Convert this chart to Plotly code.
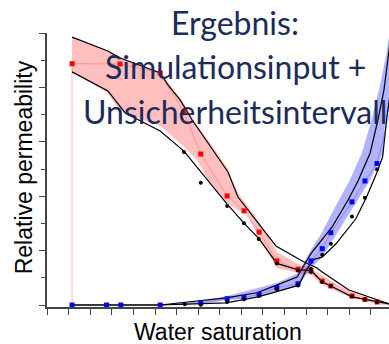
import plotly.graph_objects as go

# ---------------- data ----------------
# measured points (kro, red squares = simulation input)
kro_sw = [0.058, 0.169, 0.262, 0.317, 0.356, 0.417, 0.456, 0.491, 0.532, 0.581, 0.611, 0.637, 0.657, 0.706, 0.736, 0.764]
kro_val = [0.887, 0.886, 0.853, 0.708, 0.555, 0.401, 0.346, 0.268, 0.162, 0.132, 0.127, 0.088, 0.070, 0.033, 0.020, 0.011]
# black dots (oil)
kro_obs_sw = [0.317, 0.356, 0.417, 0.456, 0.490, 0.532, 0.581, 0.611, 0.637, 0.657, 0.706, 0.736, 0.764]
kro_obs = [0.5625, 0.449, 0.364, 0.301, 0.243, 0.153, 0.127, 0.121, 0.085, 0.070, 0.031, 0.020, 0.011]
# black bound lines (oil)
kro_hi_sw = [0.058, 0.141, 0.169, 0.262, 0.280, 0.308, 0.336, 0.419, 0.442, 0.500, 0.530, 0.593, 0.625, 0.637, 0.699, 0.792]
kro_hi = [0.985, 0.934, 0.908, 0.853, 0.809, 0.754, 0.680, 0.489, 0.397, 0.276, 0.217, 0.160, 0.136, 0.121, 0.055, 0.004]
kro_lo_sw = [0.058, 0.141, 0.181, 0.262, 0.317, 0.417, 0.456, 0.491, 0.532, 0.581, 0.611, 0.637, 0.657, 0.706, 0.792]
kro_lo = [0.857, 0.787, 0.706, 0.640, 0.566, 0.371, 0.301, 0.243, 0.153, 0.129, 0.127, 0.085, 0.070, 0.030, 0.004]
# uncertainty band (oil)
kro_band_sw = [0.058, 0.141, 0.164, 0.204, 0.262, 0.315, 0.347, 0.373, 0.417, 0.442, 0.463, 0.491, 0.532, 0.581, 0.611, 0.637, 0.657, 0.706, 0.736, 0.778, 0.799]
kro_band_hi = [0.985, 0.934, 0.915, 0.890, 0.857, 0.746, 0.662, 0.607, 0.504, 0.412, 0.368, 0.305, 0.195, 0.151, 0.136, 0.107, 0.088, 0.048, 0.029, 0.007, 0.0]
kro_band_lo = [0.857, 0.779, 0.724, 0.691, 0.658, 0.585, 0.533, 0.460, 0.375, 0.349, 0.335, 0.246, 0.136, 0.118, 0.110, 0.074, 0.059, 0.026, 0.015, 0.0, 0.0]

# water (blue squares = simulation input)
krw_sw = [0.058, 0.138, 0.171, 0.262, 0.356, 0.417, 0.456, 0.491, 0.532, 0.581, 0.611, 0.637, 0.657, 0.706, 0.736, 0.764]
krw_val = [0.0, 0.0, 0.0, 0.0, 0.008, 0.023, 0.027, 0.039, 0.064, 0.078, 0.162, 0.207, 0.266, 0.379, 0.456, 0.520]
krw_obs_sw = [0.319, 0.356, 0.417, 0.456, 0.491, 0.532, 0.581, 0.611, 0.637, 0.657, 0.706, 0.736, 0.764]
krw_obs = [0.003, 0.001, 0.011, 0.021, 0.033, 0.058, 0.072, 0.132, 0.185, 0.225, 0.325, 0.394, 0.499]
krw_hi_sw = [0.058, 0.262, 0.414, 0.486, 0.530, 0.579, 0.595, 0.611, 0.660, 0.697, 0.720, 0.748, 0.766, 0.780, 0.792, 0.796]
krw_hi = [0.0, 0.0, 0.026, 0.045, 0.072, 0.103, 0.146, 0.189, 0.287, 0.386, 0.456, 0.559, 0.680, 0.790, 0.938, 1.011]
krw_lo_sw = [0.058, 0.262, 0.414, 0.486, 0.530, 0.583, 0.600, 0.618, 0.637, 0.669, 0.715, 0.740, 0.763, 0.777, 0.786, 0.794]
krw_lo = [0.0, 0.0, 0.008, 0.029, 0.048, 0.073, 0.128, 0.168, 0.176, 0.225, 0.317, 0.398, 0.484, 0.545, 0.680, 0.772]
# uncertainty band (water), outline polygon
krw_band_sw = [0.262, 0.319, 0.354, 0.417, 0.470, 0.532, 0.581, 0.611, 0.637, 0.657, 0.701, 0.729, 0.750, 0.771, 0.785, 0.794,
               0.799, 0.792, 0.782, 0.778, 0.748, 0.701, 0.657, 0.637, 0.611, 0.581, 0.532, 0.470, 0.417, 0.354, 0.319, 0.262]
krw_band = [0.0, 0.007, 0.013, 0.033, 0.055, 0.081, 0.118, 0.202, 0.268, 0.331, 0.460, 0.559, 0.673, 0.809, 0.919, 1.011,
            0.790, 0.717, 0.662, 0.559, 0.460, 0.338, 0.228, 0.176, 0.136, 0.070, 0.048, 0.026, 0.018, 0.004, 0.0, 0.0]

title_lines = ["Ergebnis:", "Simulationsinput +", "Unsicherheitsintervall"]
x_label = "Water saturation"
y_label = "Relative permeability"

# ---------------- figure ----------------
fig = go.Figure()

# oil band
fig.add_trace(go.Scatter(x=kro_band_sw + kro_band_sw[::-1], y=kro_band_hi + kro_band_lo[::-1],
                         fill="toself", fillcolor="rgba(255,0,0,0.25)", line=dict(width=0),
                         mode="lines", hoverinfo="skip"))
# water band
fig.add_trace(go.Scatter(x=krw_band_sw, y=krw_band,
                         fill="toself", fillcolor="rgba(0,0,255,0.30)", line=dict(width=0),
                         mode="lines", hoverinfo="skip"))

# thin input lines
fig.add_trace(go.Scatter(x=[kro_sw[0]] + kro_sw + [0.80], y=[0.0] + kro_val + [0.003], mode="lines",
                         line=dict(color="rgba(255,60,60,0.35)", width=1)))
fig.add_trace(go.Scatter(x=krw_sw + [0.80], y=krw_val + [0.75], mode="lines",
                         line=dict(color="rgba(60,60,255,0.35)", width=1)))

# black bound lines
for xs, ys in [(kro_hi_sw, kro_hi), (kro_lo_sw, kro_lo), (krw_hi_sw, krw_hi), (krw_lo_sw, krw_lo)]:
    fig.add_trace(go.Scatter(x=xs, y=ys, mode="lines", line=dict(color="black", width=1.2)))

# markers
fig.add_trace(go.Scatter(x=kro_sw, y=kro_val, mode="markers",
                         marker=dict(symbol="square", size=5, color="#ff0000")))
fig.add_trace(go.Scatter(x=krw_sw, y=krw_val, mode="markers",
                         marker=dict(symbol="square", size=5, color="#0000ff")))
fig.add_trace(go.Scatter(x=kro_obs_sw, y=kro_obs, mode="markers",
                         marker=dict(symbol="circle", size=4, color="black")))
fig.add_trace(go.Scatter(x=krw_obs_sw, y=krw_obs, mode="markers",
                         marker=dict(symbol="circle", size=4, color="black")))

axis_col = "#444444"
fig.update_layout(
    width=389, height=344,
    margin=dict(l=47, r=0, t=33, b=37),
    paper_bgcolor="white", plot_bgcolor="white",
    showlegend=False,
    xaxis=dict(range=[0, 0.7917], showline=True, linecolor=axis_col, linewidth=1.5,
               ticks="outside", ticklen=6, tickwidth=1, tickcolor=axis_col,
               dtick=0.05, tick0=0, showticklabels=False, showgrid=False, zeroline=False),
    yaxis=dict(range=[-0.00735, 1.0], showline=True, linecolor=axis_col, linewidth=1.5,
               ticks="outside", ticklen=6, tickwidth=1, tickcolor=axis_col,
               dtick=0.2, tick0=0, showticklabels=False, showgrid=False, zeroline=False,
               minor=dict(ticks="outside", ticklen=4, dtick=0.1, tickcolor=axis_col, showgrid=False)),
)

title_font = dict(family="Lato", size=32, color="#1c2b5a")
for txt, yp in zip(title_lines, [1.040, 0.876, 0.715]):
    fig.add_annotation(text=txt, xref="paper", yref="paper", x=0.55, y=yp,
                       xanchor="center", yanchor="middle", showarrow=False, font=title_font)

lab_font = dict(family="Liberation Sans", size=23, color="black")
fig.add_annotation(text=x_label, xref="paper", yref="paper", x=0.501, y=-0.091,
                   xanchor="center", yanchor="middle", showarrow=False, font=lab_font)
fig.add_annotation(text=y_label, xref="paper", yref="paper", x=-0.068, y=0.509, textangle=-90,
                   xanchor="center", yanchor="middle", showarrow=False, font=lab_font)

fig.write_html("out.html")
